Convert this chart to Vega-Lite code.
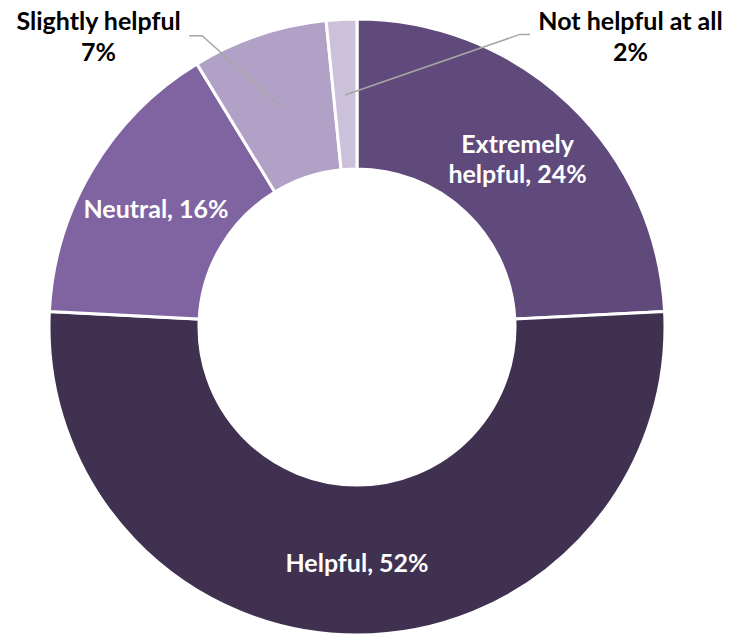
{
  "$schema": "https://vega.github.io/schema/vega-lite/v6.json",
  "width": 714,
  "height": 622,
  "padding": {"left": 0, "top": 16, "right": 20, "bottom": 0},
  "autosize": {"type": "none"},
  "background": "white",
  "config": {"view": {"stroke": null}},
  "datasets": {
    "slices": [
      {"rank": 1, "category": "Extremely helpful", "value": 24.2, "line1": "Extremely", "line2": "helpful, 24%", "single": ""},
      {"rank": 2, "category": "Helpful", "value": 51.6, "line1": "", "line2": "", "single": "Helpful, 52%"},
      {"rank": 3, "category": "Neutral", "value": 15.5, "line1": "", "line2": "", "single": "Neutral, 16%"},
      {"rank": 4, "category": "Slightly helpful", "value": 7.1, "line1": "", "line2": "", "single": ""},
      {"rank": 5, "category": "Not helpful at all", "value": 1.6, "line1": "", "line2": "", "single": ""}
    ],
    "leaders": [
      {"g": "Slightly helpful", "i": 0, "x": -0.545, "y": 0.946},
      {"g": "Slightly helpful", "i": 1, "x": -0.503, "y": 0.946},
      {"g": "Slightly helpful", "i": 2, "x": -0.2435, "y": 0.714},
      {"g": "Not helpful at all", "i": 0, "x": 0.562, "y": 0.95},
      {"g": "Not helpful at all", "i": 1, "x": 0.529, "y": 0.95},
      {"g": "Not helpful at all", "i": 2, "x": -0.039, "y": 0.753}
    ],
    "outlabels": [
      {"category": "Slightly helpful", "text": "Slightly helpful\n7%", "x": -0.839, "y": 0.965},
      {"category": "Not helpful at all", "text": "Not helpful at all\n2%", "x": 0.888, "y": 0.965}
    ]
  },
  "layer": [
    {
      "data": {"name": "slices"},
      "mark": {"type": "arc", "innerRadius": 158, "outerRadius": 308, "stroke": "white", "strokeWidth": 3},
      "encoding": {
        "theta": {"field": "value", "type": "quantitative", "stack": true},
        "order": {"field": "rank", "type": "quantitative"},
        "color": {
          "field": "category",
          "type": "nominal",
          "sort": null,
          "legend": null,
          "scale": {
            "domain": ["Extremely helpful", "Helpful", "Neutral", "Slightly helpful", "Not helpful at all"],
            "range": ["#604a7b", "#403151", "#8064a2", "#b2a1c7", "#ccc1da"]
          }
        }
      }
    },
    {
      "data": {"name": "slices"},
      "mark": {"type": "text", "radius": 233, "font": "Lato", "fontWeight": "bold", "fontSize": 25, "align": "center", "baseline": "alphabetic", "dy": -5, "fill": "white"},
      "encoding": {
        "theta": {"field": "value", "type": "quantitative", "stack": true},
        "order": {"field": "rank", "type": "quantitative"},
        "detail": {"field": "category", "type": "nominal"},
        "text": {"field": "line1", "type": "nominal"}
      }
    },
    {
      "data": {"name": "slices"},
      "mark": {"type": "text", "radius": 233, "font": "Lato", "fontWeight": "bold", "fontSize": 25, "align": "center", "baseline": "alphabetic", "dy": 25, "fill": "white"},
      "encoding": {
        "theta": {"field": "value", "type": "quantitative", "stack": true},
        "order": {"field": "rank", "type": "quantitative"},
        "detail": {"field": "category", "type": "nominal"},
        "text": {"field": "line2", "type": "nominal"}
      }
    },
    {
      "data": {"name": "slices"},
      "mark": {"type": "text", "radius": 234, "font": "Lato", "fontWeight": "bold", "fontSize": 25, "align": "center", "baseline": "middle", "dy": 3, "fill": "white"},
      "encoding": {
        "theta": {"field": "value", "type": "quantitative", "stack": true},
        "order": {"field": "rank", "type": "quantitative"},
        "detail": {"field": "category", "type": "nominal"},
        "text": {"field": "single", "type": "nominal"}
      }
    },
    {
      "data": {"name": "leaders"},
      "mark": {"type": "line", "stroke": "#a6a6a6", "strokeWidth": 1.5},
      "encoding": {
        "x": {"field": "x", "type": "quantitative", "axis": null, "scale": {"domain": [-1.15909, 1.15909], "nice": false, "zero": false}},
        "y": {"field": "y", "type": "quantitative", "axis": null, "scale": {"domain": [-1.00974, 1.00974], "nice": false, "zero": false}},
        "detail": {"field": "g", "type": "nominal"},
        "order": {"field": "i", "type": "quantitative"}
      }
    },
    {
      "data": {"name": "outlabels"},
      "mark": {"type": "text", "font": "Lato", "fontWeight": "bold", "fontSize": 25, "lineBreak": "\n", "lineHeight": 31, "align": "center", "baseline": "alphabetic", "fill": "#000000"},
      "encoding": {
        "x": {"field": "x", "type": "quantitative", "axis": null, "scale": {"domain": [-1.15909, 1.15909], "nice": false, "zero": false}},
        "y": {"field": "y", "type": "quantitative", "axis": null, "scale": {"domain": [-1.00974, 1.00974], "nice": false, "zero": false}},
        "text": {"field": "text", "type": "nominal"}
      }
    }
  ]
}
